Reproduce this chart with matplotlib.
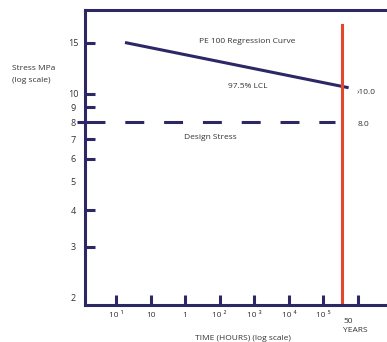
import numpy as np
import matplotlib
matplotlib.use("Agg")
import matplotlib.pyplot as plt
from matplotlib.ticker import FixedLocator, FixedFormatter

plt.rcParams['font.family'] = ['Open Sans', 'DejaVu Sans']

# data
x_labels = ["10 ¹", "10", "1", "10 ²", "10 ³", "10 ⁴", "10 ⁵", ""]
x_pos = np.arange(len(x_labels))
y_marked = [3, 4, 6, 7, 9, 10, 15]
y_unmarked = [2, 5, 8]
curve_x = [0.26, 6.73]
curve_y = [15.0, 10.5]
design_stress = 8.0
fifty_years = 6.54

navy = "#2c2866"
red = "#e4472e"
grey = "#333333"

fig = plt.figure(figsize=(3.87, 3.42), dpi=100)
ax = fig.add_axes([0.2196, 0.108, 0.7804, 0.863])

ax.set_yscale("log")
ax.set_xlim(-0.897, 7.84)
ax.set_ylim(1.89, 19.4)

for s in ["left", "bottom", "top"]:
    ax.spines[s].set_color(navy)
    ax.spines[s].set_linewidth(2.2)
ax.spines["right"].set_visible(False)

ax.plot(curve_x, curve_y, color=navy, lw=2.2, solid_capstyle="butt")
ax.axvline(fifty_years, ymin=0.0, ymax=0.949, color=red, lw=2.2)
ax.plot([-0.87, 6.34], [design_stress, design_stress], color=navy, lw=2.2,
        dashes=(6.2, 6.5), dash_capstyle="butt", clip_on=False)
ax.plot([-1.13, -0.87], [design_stress, design_stress], color=navy, lw=2.2,
        solid_capstyle="butt", clip_on=False)

# y axis: marked ticks are major, the rest only carry labels
ax.yaxis.set_major_locator(FixedLocator(y_marked))
ax.yaxis.set_major_formatter(FixedFormatter([str(v) for v in y_marked]))
ax.yaxis.set_minor_locator(FixedLocator(y_unmarked))
ax.yaxis.set_minor_formatter(FixedFormatter([str(v) for v in y_unmarked]))
ax.tick_params(axis="y", which="major", direction="in", length=7, width=2.2, color=navy,
               pad=8.6, labelsize=6.5, labelcolor=grey)
ax.tick_params(axis="y", which="minor", length=0, pad=8.6, labelsize=6.5, labelcolor=grey)
plt.setp(ax.yaxis.get_majorticklabels(), ha="center")
plt.setp(ax.yaxis.get_minorticklabels(), ha="center")

# x axis
ax.set_xticks(x_pos)
ax.set_xticklabels(x_labels)
ax.tick_params(axis="x", direction="in", length=7, width=2.2, color=navy,
               pad=5, labelsize=6, labelcolor=grey)
ax.xaxis.set_minor_locator(FixedLocator([]))

ax.text(fifty_years + 0.03, -0.045, "50\nYEARS", transform=ax.get_xaxis_transform(),
        fontsize=6, color=grey, ha="left", va="top", linespacing=1.3)

ax.text(3.8, 15.1, "PE 100 Regression Curve", fontsize=6, color=grey, ha="center", va="center")
ax.text(3.8, 10.6, "97.5% LCL", fontsize=6, color=grey, ha="center", va="center")
ax.text(2.73, 7.1, "Design Stress", fontsize=6, color=grey, ha="center", va="center")
ax.text(6.95, 10.15, "›10.0", fontsize=6, color=grey, ha="left", va="center")
ax.text(7.0, 7.85, "8.0", fontsize=6, color=grey, ha="left", va="center")

fig.text(12 / 387, 1 - 69 / 342, "Stress MPa", fontsize=6, color=grey, ha="left", va="center")
fig.text(12 / 387, 1 - 81 / 342, "(log scale)", fontsize=6, color=grey, ha="left", va="center")
fig.text(243 / 387, 1 - 338 / 342, "TIME (HOURS) (log scale)", fontsize=6, color=grey,
         ha="center", va="center")

fig.savefig("out.png", dpi=100)
